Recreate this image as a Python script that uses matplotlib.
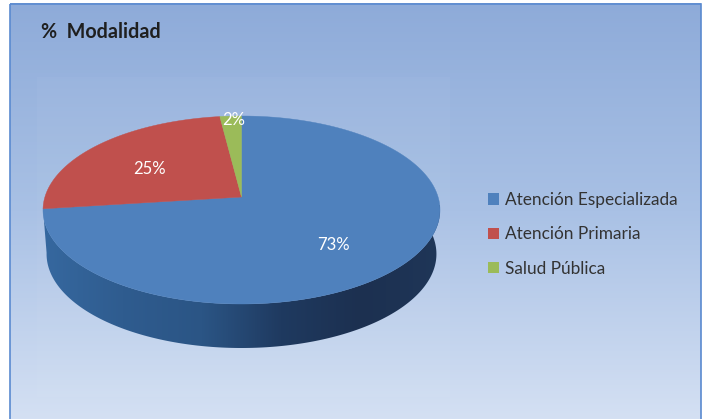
import numpy as np
import matplotlib
matplotlib.use("Agg")
import matplotlib.pyplot as plt
from matplotlib.patches import Polygon, Patch, Rectangle
from matplotlib.colors import LinearSegmentedColormap

title = "%  Modalidad"
categories = ["Atención Especializada", "Atención Primaria", "Salud Pública"]
values = [73, 25, 2]
colors = ["#4f81bd", "#c0504d", "#9bbb59"]
labels = ["73%", "25%", "2%"]
label_pos = [(333, 245), (149, 169), (234, 120)]

plt.rcParams["font.family"] = ["Lato", "DejaVu Sans"]
fig = plt.figure(figsize=(7.04, 4.19), dpi=100, facecolor="white")
ax = fig.add_axes([0, 0, 1, 1])
ax.set_xlim(0, 704)
ax.set_ylim(419, 0)
ax.axis("off")

# panel
bg = LinearSegmentedColormap.from_list("bg", ["#8eabd9", "#a9c1e5", "#d4e0f3"])
ax.imshow(np.linspace(0, 1, 256)[:, None], cmap=bg, extent=(10, 701, 419, 4), aspect="auto", zorder=0)
ax.add_patch(Rectangle((37, 77), 413, 320, fc="white", ec="none", alpha=0.03, zorder=0.5))
ax.set_xlim(0, 704)
ax.set_ylim(419, 0)
ax.add_patch(Rectangle((10, 4), 691, 420, fill=False, ec="#5a8ad0", lw=1.2, zorder=1))

# perspective projection of the unit disc: the circle stays an ellipse,
# the pie's apex sits above the ellipse's centre
ex, ey, rx, ry, k = 241.5, 210.0, 198.5, 94.0, 0.138
s = np.sqrt(1 - k ** 2)
def project(x, y):
    d = 1 + k * y
    return ex + rx * (x * s / d), ey - ry * ((y + k) / d)
def top(a):
    return project(np.cos(a), np.sin(a))
def bottom(a):
    x, y = top(a)
    return ex + (x - ex) * 0.982, y + 44

# side wall
a_side = np.radians(np.linspace(187.2, 363, 200))
xt, yt = top(a_side)
xb, yb = bottom(a_side)
side = Polygon(np.r_[np.c_[xt, yt], np.c_[xb, yb][::-1]], closed=True, fc="none", ec="none", zorder=2)
ax.add_patch(side)
side_cmap = LinearSegmentedColormap.from_list("side", ["#36689f", "#2f5c8f", "#2b5585", "#1f3a60", "#1c3050", "#1f3658"])
grad = ax.imshow(np.linspace(0, 1, 256)[None, :], cmap=side_cmap, extent=(43, 440, 350, 205), aspect="auto", zorder=2)
grad.set_clip_path(side)
ax.set_xlim(0, 704)
ax.set_ylim(419, 0)

# top slices (clockwise from 12 o'clock)
start = 90.0
for v, c in zip(values, colors):
    end = start - v / sum(values) * 360
    a = np.radians(np.linspace(start, end, 200))
    x, y = top(a)
    ax.add_patch(Polygon(np.r_[[project(0, 0)], np.c_[x, y]], closed=True, fc=c, ec=c, lw=0.3, zorder=3))
    start = end

for t, (x, y) in zip(labels, label_pos):
    ax.text(x, y, t, color="white", fontsize=12, ha="center", va="center", zorder=4)

ax.text(41, 32, title, fontsize=14.2, fontweight="bold", color="#1f1f1f", ha="left", va="center", zorder=4)

handles = [Patch(fc=c, ec="none") for c in colors]
leg = ax.legend(handles, categories, loc="upper left", bbox_to_anchor=(488 / 704, 1 - 192 / 419),
                frameon=False, fontsize=12.4, labelcolor="#333333", handlelength=0.64, handleheight=0.64,
                handletextpad=0.32, labelspacing=1.06, borderpad=0, borderaxespad=0)

fig.savefig("out.png", dpi=100)
